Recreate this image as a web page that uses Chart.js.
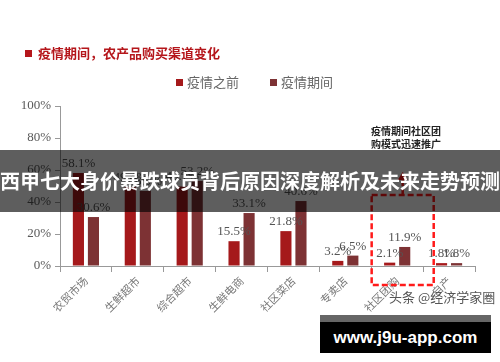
<!DOCTYPE html>
<html>
<head>
<meta charset="utf-8">
<script src="https://cdn.jsdelivr.net/npm/chart.js@4/dist/chart.umd.min.js"></script>
<style>
  html,body{margin:0;padding:0;background:#fff;}
  #wrap{position:relative;width:500px;height:362px;overflow:hidden;}
  #c{position:absolute;left:0;top:0;}
  .abs{position:absolute;white-space:nowrap;}
  #title{left:25px;top:45px;font:bold 13px "Noto Sans CJK SC";color:#b5161b;line-height:16px;}
  #title i{display:inline-block;width:7px;height:7px;background:#b5161b;margin-right:6px;vertical-align:1px;}
  .leg{top:74px;font:13px "Noto Sans CJK SC";color:#666;line-height:16px;}
  .leg i{display:inline-block;width:7px;height:7px;margin-right:4px;vertical-align:1px;}
  #note{left:371px;top:124px;font:bold 10px "Noto Sans CJK SC";color:#222;line-height:13px;}
  #banner{left:0;top:150px;width:500px;height:62px;background:rgba(0,0,0,0.63);color:#fff;
    font:bold 20px "Noto Sans CJK SC";line-height:62px;text-align:center;letter-spacing:0px;}
  #tt{left:389px;top:289px;font:13px "Noto Sans CJK SC";color:#555;line-height:16px;}
  #wm{left:320px;top:315px;width:171px;height:38px;background:#000;border-top:7px solid #666;box-sizing:border-box;
    color:#fff;font:bold 17px "Liberation Sans";line-height:31px;text-align:center;}
</style>
</head>
<body>
<div id="wrap">
  <canvas id="c" width="500" height="362"></canvas>
  <div class="abs" id="title"><i></i>疫情期间，农产品购买渠道变化</div>
  <div class="abs leg" style="left:176px"><i style="background:#a5191b"></i>疫情之前</div>
  <div class="abs leg" style="left:270px"><i style="background:#7d3234"></i>疫情期间</div>
  <div class="abs" id="note">疫情期间社区团<br>购模式迅速推广</div>
  <div class="abs" id="banner">西甲七大身价暴跌球员背后原因深度解析及未来走势预测</div>
  <div class="abs" id="tt">头条 @经济学家圈</div>
  <div class="abs" id="wm">www.j9u-app.com</div>
</div>
<script>
const categories = ["农贸市场","生鲜超市","综合超市","生鲜电商","社区菜店","专卖店","社区团购","自产"];
const before = [58.1, 49.4, 49.7, 15.5, 21.8, 3.2, 2.1, 1.8];
const during = [30.6, 46.9, 53.2, 33.1, 40.6, 6.5, 11.9, 1.8];
const seriesNames = ["疫情之前","疫情期间"];
const yTicks = [0,10,20,30,40,50,60,70,80,90,100];

const labelPlugin = {
  id:'vlabels',
  afterDatasetsDraw(chart){
    const ctx = chart.ctx;
    ctx.save();
    ctx.font = '13px "Liberation Serif"';
    ctx.fillStyle = '#555';
    ctx.textAlign = 'center';
    ctx.textBaseline = 'bottom';
    chart.data.datasets.forEach((ds,di)=>{
      chart.getDatasetMeta(di).data.forEach((bar,i)=>{
        ctx.fillText(ds.data[i].toFixed(1)+'%', bar.x, bar.y-3);
      });
    });
    ctx.restore();
  }
};

const boxPlugin = {
  id:'box',
  afterDraw(chart){
    const ctx = chart.ctx;
    const y = chart.scales.y;
    const b0 = chart.getDatasetMeta(0).data[6];
    const b1 = chart.getDatasetMeta(1).data[6];
    const left = b0.x - 18, right = b1.x + 29;
    const top = y.getPixelForValue(44.4);
    const bottom = chart.chartArea.bottom + 19;
    const cx = (left+right)/2;
    ctx.save();
    ctx.strokeStyle = '#ff1a1a';
    ctx.lineWidth = 2.5;
    ctx.setLineDash([6,3]);
    ctx.strokeRect(left, top, right-left, bottom-top);
    const tip = y.getPixelForValue(58.8);
    ctx.beginPath();
    ctx.moveTo(cx, top);
    ctx.lineTo(cx, tip+6);
    ctx.stroke();
    ctx.setLineDash([]);
    ctx.fillStyle = '#ff1a1a';
    ctx.beginPath();
    ctx.moveTo(cx, tip);
    ctx.lineTo(cx-5, tip+8);
    ctx.lineTo(cx+5, tip+8);
    ctx.closePath();
    ctx.fill();
    ctx.restore();
  }
};

new Chart(document.getElementById('c'), {
  type:'bar',
  data:{
    labels: categories,
    datasets:[
      {label:seriesNames[0], data:before, backgroundColor:'#a5191b', categoryPercentage:0.58, barPercentage:0.74},
      {label:seriesNames[1], data:during, backgroundColor:'#7d3234', categoryPercentage:0.58, barPercentage:0.74}
    ]
  },
  options:{
    responsive:false,
    animation:false,
    layout:{padding:{top:106,right:25,left:0,bottom:0}},
    plugins:{legend:{display:false},tooltip:{enabled:false}},
    scales:{
      x:{
        grid:{display:true,drawOnChartArea:false,offset:true,color:'#999',tickLength:6,tickColor:'#999'},
        border:{color:'#999',width:1},
        ticks:{font:{family:'"Noto Sans CJK SC"',size:11},color:'#777',minRotation:45,maxRotation:45,padding:2},
        afterFit(s){s.height=96;}
      },
      y:{
        min:0,max:100,
        afterBuildTicks(s){s.ticks = yTicks.map(v=>({value:v}));},
        grid:{display:true,drawOnChartArea:false,color:'#999',tickLength:5,tickColor:'#999'},
        border:{color:'#999',width:1},
        ticks:{font:{family:'"Liberation Serif"',size:13},color:'#595959',padding:4,callback:v=>v+'%'},
        afterFit(s){s.width=60;}
      }
    }
  },
  plugins:[labelPlugin, boxPlugin]
});
</script>
</body>
</html>
